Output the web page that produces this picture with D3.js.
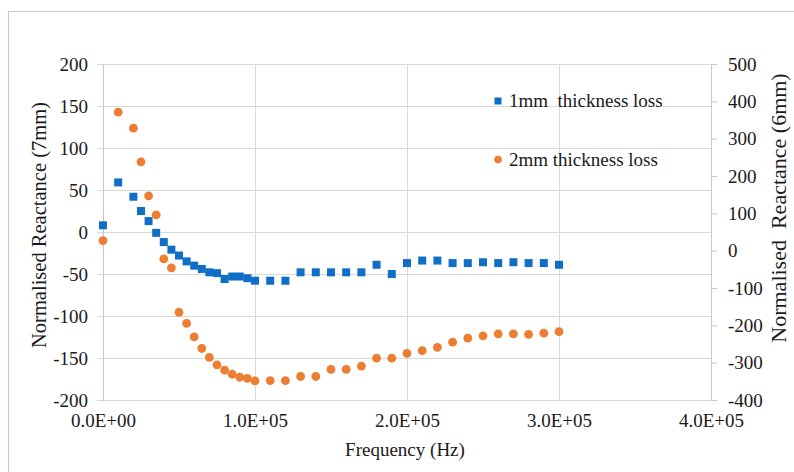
<!DOCTYPE html>
<html>
<head>
<meta charset="utf-8">
<script src="https://cdn.jsdelivr.net/npm/d3@7"></script>
<style>
  html, body { margin: 0; padding: 0; background: #fff; }
  svg { display: block; font-family: "Liberation Serif", "Times New Roman", serif; }
</style>
</head>
<body>
<svg id="chart" width="794" height="472"></svg>
<script>
// Frequency points (Hz)
const frequency = [0, 10000, 20000, 25000, 30000, 35000, 40000, 45000, 50000, 55000,
  60000, 65000, 70000, 75000, 80000, 85000, 90000, 95000, 100000,
  110000, 120000, 130000, 140000, 150000, 160000, 170000, 180000, 190000, 200000,
  210000, 220000, 230000, 240000, 250000, 260000, 270000, 280000, 290000, 300000];

// Normalised reactance, 1mm thickness loss (left axis, 7mm)
const loss1mm = [8, 59, 42, 25, 13, -1, -12, -21, -28, -35,
  -40, -44, -48, -49, -56, -53, -53, -55, -58,
  -58, -58, -48, -48, -48, -48, -48, -39, -50, -37,
  -34, -34, -37, -37, -36, -37, -36, -37, -37, -39];

// Normalised reactance, 2mm thickness loss (right axis, 6mm)
const loss2mm = [27, 371, 328, 238, 147, 96, -22, -46, -165, -195,
  -231, -262, -286, -306, -320, -331, -339, -342, -349,
  -348, -348, -337, -337, -318, -318, -309, -288, -288, -275,
  -268, -259, -245, -234, -228, -223, -223, -224, -221, -217];

const xTicks = [0, 100000, 200000, 300000, 400000];
const xTickLabels = ["0.0E+00", "1.0E+05", "2.0E+05", "3.0E+05", "4.0E+05"];
const leftTicks = [-200, -150, -100, -50, 0, 50, 100, 150, 200];
const rightTicks = [-400, -300, -200, -100, 0, 100, 200, 300, 400, 500];

const seriesNames = ["1mm\u00a0 thickness loss", "2mm thickness loss"];
const seriesColors = ["#0f6fc6", "#ed7d31"];

const svg = d3.select("#chart");
const W = 794, H = 472;
const plot = { left: 103, right: 711, top: 64, bottom: 400 };

const x = d3.scaleLinear().domain([0, 400000]).range([plot.left, plot.right]);
const yL = d3.scaleLinear().domain([-200, 200]).range([plot.bottom, plot.top]);
const yR = d3.scaleLinear().domain([-400, 500]).range([plot.bottom, plot.top]);

const gridColor = "#d9d9d9";
const textColor = "#1a1a1a";
const fontSize = 19;
const plainNumber = d => String(d);   // hyphen-minus for negatives

// Outer frame (top and left edges)
svg.append("path")
  .attr("d", `M8.5,${H} V11.5 H${W}`)
  .attr("fill", "none")
  .attr("stroke", "#c8c8c8")
  .attr("stroke-width", 1.2);

// Horizontal gridlines (left-axis ticks, extending out as tick marks)
svg.append("g")
  .selectAll("line")
  .data(leftTicks)
  .join("line")
  .attr("x1", plot.left - 6)
  .attr("x2", plot.right)
  .attr("y1", d => Math.round(yL(d)) + 0.5)
  .attr("y2", d => Math.round(yL(d)) + 0.5)
  .attr("stroke", gridColor)
  .attr("stroke-width", 1);

// Vertical gridlines
svg.append("g")
  .selectAll("line")
  .data(xTicks)
  .join("line")
  .attr("x1", d => Math.round(x(d)) + 0.5)
  .attr("x2", d => Math.round(x(d)) + 0.5)
  .attr("y1", plot.top)
  .attr("y2", plot.bottom)
  .attr("stroke", gridColor)
  .attr("stroke-width", 1);

// Left axis
const leftAxis = d3.axisLeft(yL).tickValues(leftTicks).tickSize(0).tickPadding(15)
  .tickFormat(plainNumber);
const gL = svg.append("g").attr("transform", `translate(${plot.left},0)`).call(leftAxis);
gL.select(".domain").attr("stroke", "#c8c8c8");

// Right axis
const rightAxis = d3.axisRight(yR).tickValues(rightTicks).tickSize(6).tickPadding(11)
  .tickFormat(plainNumber);
const gR = svg.append("g").attr("transform", `translate(${plot.right},0)`).call(rightAxis);
gR.select(".domain").attr("stroke", "#c8c8c8");
gR.selectAll(".tick line").attr("stroke", "#c8c8c8");

// Bottom axis
const bottomAxis = d3.axisBottom(x).tickValues(xTicks).tickSize(0).tickPadding(14)
  .tickFormat((d, i) => xTickLabels[i]);
const gB = svg.append("g").attr("transform", `translate(0,${plot.bottom})`).call(bottomAxis);
gB.select(".domain").remove();

svg.selectAll(".tick text")
  .attr("font-family", "Liberation Serif, Times New Roman, serif")
  .attr("font-size", fontSize)
  .attr("fill", textColor);

// Axis titles
svg.append("text")
  .attr("x", 405).attr("y", 456)
  .attr("text-anchor", "middle")
  .attr("font-size", fontSize).attr("fill", textColor)
  .text("Frequency (Hz)");

svg.append("text")
  .attr("transform", "translate(46,225) rotate(-90)")
  .attr("text-anchor", "middle")
  .attr("font-size", 20.5).attr("fill", textColor)
  .text("Normalised Reactance (7mm)");

svg.append("text")
  .attr("transform", "translate(786,208) rotate(-90)")
  .attr("text-anchor", "middle")
  .attr("font-size", 22).attr("fill", textColor)
  .text("Normalised\u00a0 Reactance (6mm)");

// Series 1: squares on left axis
const sq = 8;
svg.append("g")
  .selectAll("rect")
  .data(frequency.map((f, i) => [f, loss1mm[i]]))
  .join("rect")
  .attr("x", d => x(d[0]) - sq / 2)
  .attr("y", d => yL(d[1]) - sq / 2)
  .attr("width", sq).attr("height", sq)
  .attr("fill", seriesColors[0]);

// Series 2: circles on right axis
svg.append("g")
  .selectAll("circle")
  .data(frequency.map((f, i) => [f, loss2mm[i]]))
  .join("circle")
  .attr("cx", d => x(d[0]))
  .attr("cy", d => yR(d[1]))
  .attr("r", 4.4)
  .attr("fill", seriesColors[1]);

// Legend
const legend = svg.append("g");
legend.append("rect")
  .attr("x", 494.5).attr("y", 97.5).attr("width", 7).attr("height", 7)
  .attr("fill", seriesColors[0]);
legend.append("text")
  .attr("x", 509).attr("y", 107)
  .attr("font-size", fontSize).attr("fill", textColor)
  .text(seriesNames[0]);
legend.append("circle")
  .attr("cx", 498).attr("cy", 159.5).attr("r", 3.8)
  .attr("fill", seriesColors[1]);
legend.append("text")
  .attr("x", 509).attr("y", 166)
  .attr("font-size", fontSize).attr("fill", textColor)
  .text(seriesNames[1]);
</script>
</body>
</html>
